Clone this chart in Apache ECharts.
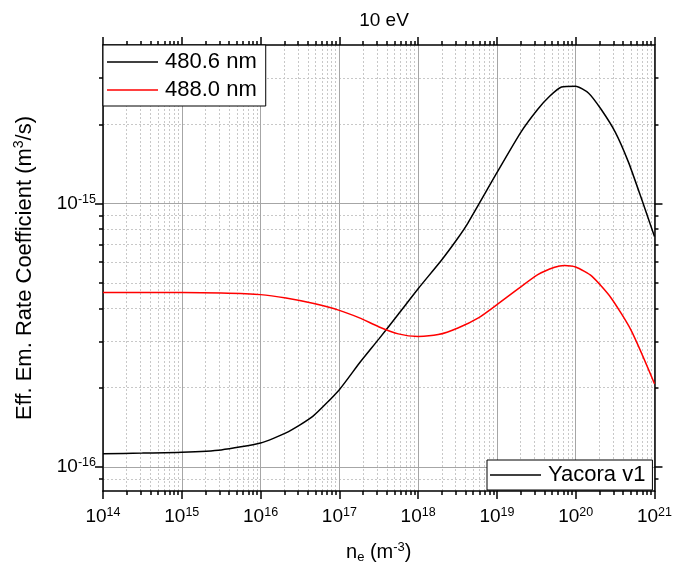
<!DOCTYPE html>
<html><head><meta charset="utf-8">
<script src="https://cdn.jsdelivr.net/npm/echarts@6/dist/echarts.min.js"></script>
<style>html,body{margin:0;padding:0;background:#fff}#c{width:675px;height:574px}</style>
</head><body><div id="c"></div>
<script>
// ---- data (electron density n_e in m^-3, rate coefficient in m^3/s) ----
const neBlack = [1e14, 3.16e14, 1e15, 3.16e15, 1e16, 2.1e16, 4.6e16, 1e17, 1.8e17, 3.2e17, 5.6e17, 1e18, 2e18, 3.2e18, 4.3e18, 1e19, 2e19, 3.3e19, 4.7e19, 6.6e19, 1e20, 1.45e20, 2.1e20, 3.2e20, 4.7e20, 6.9e20, 1e21];
const rateBlack = [1.123e-16, 1.128e-16, 1.136e-16, 1.16e-16, 1.233e-16, 1.346e-16, 1.556e-16, 1.965e-16, 2.48e-16, 3.07e-16, 3.8e-16, 4.75e-16, 6.12e-16, 7.4e-16, 8.45e-16, 1.31e-15, 1.86e-15, 2.28e-15, 2.56e-15, 2.77e-15, 2.79e-15, 2.63e-15, 2.28e-15, 1.86e-15, 1.43e-15, 1.035e-15, 7.5e-16];
const neRed = [1e14, 1e15, 3.16e15, 1e16, 2.1e16, 4.6e16, 1e17, 1.8e17, 3.2e17, 5.6e17, 1e18, 1.8e18, 3.2e18, 5.9e18, 1e19, 1.8e19, 3.3e19, 5.4e19, 7.2e19, 1e20, 1.6e20, 2.8e20, 5e20, 1e21];
const rateRed = [4.59e-16, 4.59e-16, 4.57e-16, 4.51e-16, 4.38e-16, 4.18e-16, 3.93e-16, 3.68e-16, 3.40e-16, 3.2e-16, 3.13e-16, 3.18e-16, 3.37e-16, 3.69e-16, 4.13e-16, 4.71e-16, 5.37e-16, 5.73e-16, 5.82e-16, 5.74e-16, 5.30e-16, 4.39e-16, 3.32e-16, 2.07e-16];
const seriesNames = ['480.6 nm', '488.0 nm', 'Yacora v1'];
const xTickExps = [14, 15, 16, 17, 18, 19, 20, 21];
const yTickExps = [-16, -15];
const xRange = [1e14, 1e21];
const yRange = [8.1e-17, 4e-15];
const titleText = '10 eV';

// ---- build ----
const L = Math.log10;
const xMin = L(xRange[0]), xMax = L(xRange[1]);
const yMin = L(yRange[0]), yMax = L(yRange[1]);
function minorVals(lo, hi) {
  const out = [];
  for (let d = Math.floor(lo) - 1; d <= Math.ceil(hi); d++) {
    for (let k = 2; k <= 9; k++) {
      const v = d + L(k);
      if (v > lo + 1e-9 && v < hi - 1e-9) out.push(v);
    }
  }
  return out;
}
const xMinor = minorVals(xMin, xMax);
const yMinor = minorVals(yMin, yMax);
const FONT = 'Liberation Sans, Arial, sans-serif';
const supRich = {
  b: { fontSize: 19, fontFamily: FONT, color: '#000' },
  s: { fontSize: 12.5, fontFamily: FONT, color: '#000', padding: [0, 0, 9, 0] }
};
const expLabel = v => '{b|10}{s|' + Math.round(v) + '}';
const black = { color: '#000', width: 1.5 };

function axis(kind, pos, major, opts) {
  const isX = kind === 'x';
  const mn = isX ? xMin : yMin, mx = isX ? xMax : yMax;
  const vals = major ? (isX ? xTickExps : yTickExps) : (isX ? xMinor : yMinor);
  const a = {
    type: 'value', min: mn, max: mx, position: pos,
    axisLine: { show: major, onZero: false, lineStyle: black },
    axisTick: { show: true, inside: false, length: major ? 8 : 4, lineStyle: black, customValues: vals },
    axisLabel: { show: false, customValues: vals },
    splitLine: { show: false },
    z: major ? 3 : 2
  };
  return Object.assign(a, opts || {});
}

const xAxes = [
  axis('x', 'bottom', true, {
    axisLabel: { show: true, customValues: xTickExps, margin: 15, formatter: expLabel, rich: supRich },
    splitLine: { show: true, lineStyle: { color: '#a6a6a6', width: 1 } },
    name: '{a|n}{sub|e}{a| (m}{sup|-3}{a|)}',
    nameLocation: 'middle', nameGap: 50,
    nameTextStyle: { rich: {
      a: { fontSize: 20, fontFamily: FONT, color: '#000' },
      sub: { fontSize: 13, fontFamily: FONT, color: '#000', padding: [10, 0, 0, 0] },
      sup: { fontSize: 13, fontFamily: FONT, color: '#000', padding: [0, 0, 10, 0] }
    } }
  }),
  axis('x', 'bottom', false, { splitLine: { show: true, lineStyle: { color: '#c8c8c8', width: 1, type: [2, 2] } } }),
  axis('x', 'top', true),
  axis('x', 'top', false)
];
const yAxes = [
  axis('y', 'left', true, {
    axisLabel: { show: true, customValues: yTickExps, margin: 7, formatter: expLabel, rich: supRich },
    splitLine: { show: true, lineStyle: { color: '#a6a6a6', width: 1 } },
    name: '{a|Eff. Em. Rate Coefficient (m}{s|3}{a|/s)}',
    nameLocation: 'middle', nameGap: 66,
    nameTextStyle: { rich: {
      a: { fontSize: 22, fontFamily: FONT, color: '#000' },
      s: { fontSize: 14, fontFamily: FONT, color: '#000', padding: [0, 0, 11, 0] }
    } }
  }),
  axis('y', 'left', false, { splitLine: { show: true, lineStyle: { color: '#c8c8c8', width: 1, type: [2, 2] } } }),
  axis('y', 'right', true),
  axis('y', 'right', false)
];

const toPts = (xs, ys) => xs.map((x, i) => [L(x), L(ys[i])]);

const option = {
  animation: false,
  backgroundColor: '#fff',
  title: { text: titleText, left: 379, top: 6, textAlign: 'center',
    textStyle: { fontSize: 19, fontWeight: 'normal', fontFamily: FONT, color: '#000' } },
  grid: { left: 103, right: 18, top: 45, bottom: 83, containLabel: false },
  xAxis: xAxes,
  yAxis: yAxes,
  legend: [
    { data: [seriesNames[0], seriesNames[1]], orient: 'vertical', left: 103, top: 45,
      icon: 'rect', itemWidth: 51, itemHeight: 1.5, itemGap: 6,
      padding: [6, 9, 5, 4], borderColor: '#000', borderWidth: 1, borderRadius: 0,
      backgroundColor: '#fff', z: 10,
      textStyle: { fontSize: 22, fontFamily: FONT, color: '#000', padding: [0, 0, 0, 2] } },
    { data: [seriesNames[2]], orient: 'horizontal', left: 487, top: 460,
      icon: 'rect', itemWidth: 51, itemHeight: 1.5,
      padding: [4, 7, 4, 3], borderColor: '#000', borderWidth: 1, borderRadius: 0,
      backgroundColor: '#fff', z: 10,
      textStyle: { fontSize: 22, fontFamily: FONT, color: '#000', padding: [0, 0, 0, 2] } }
  ],
  series: [
    { name: seriesNames[0], type: 'line', data: toPts(neBlack, rateBlack), symbol: 'none',
      smooth: 0.2, color: '#000', lineStyle: { color: '#000', width: 1.5 }, z: 5 },
    { name: seriesNames[1], type: 'line', data: toPts(neRed, rateRed), symbol: 'none',
      smooth: 0.2, color: '#ff0000', lineStyle: { color: '#ff0000', width: 1.5 }, z: 5 },
    { name: seriesNames[2], type: 'line', data: [], symbol: 'none',
      color: '#000', lineStyle: { color: '#000', width: 1.5 } }
  ]
};
echarts.init(document.getElementById('c'), null, { renderer: 'canvas' }).setOption(option);
</script></body></html>
